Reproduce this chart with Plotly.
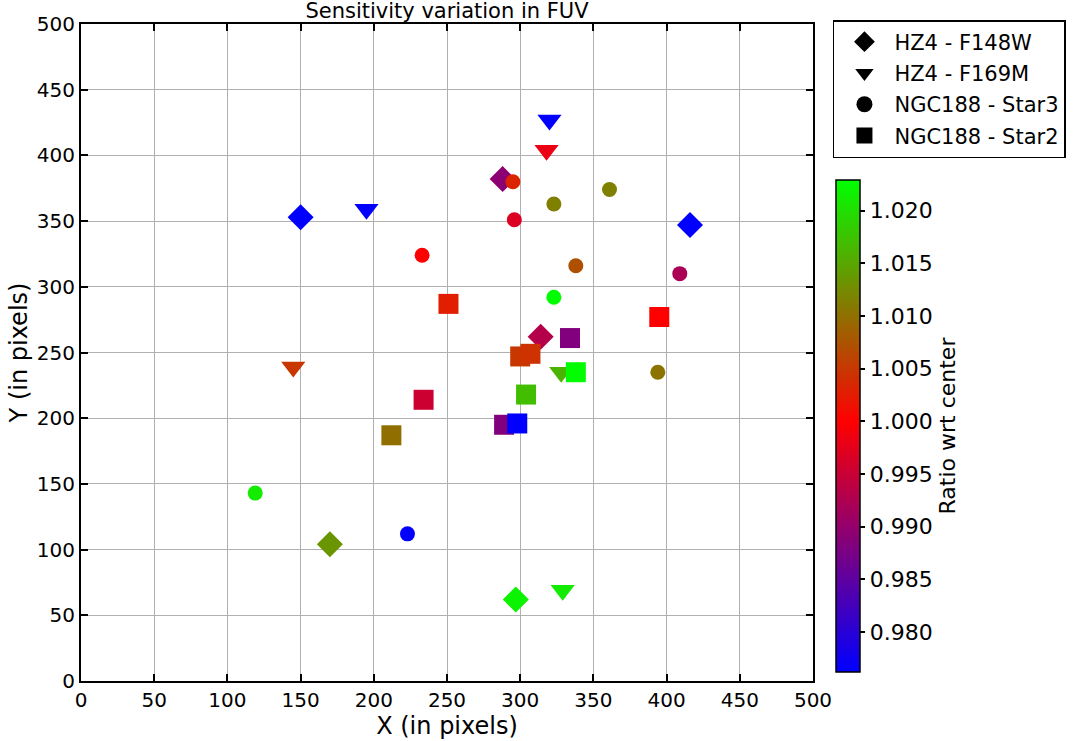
import plotly.graph_objects as go

# ---- data ----
hz4_f148w_x = [150, 416, 288, 314, 170, 297]
hz4_f148w_y = [353, 347, 382, 262, 104, 62]
hz4_f148w_r = [0.9763, 0.9763, 0.9893, 0.9930, 1.0135, 1.0218]

hz4_f169m_x = [320, 318, 195, 145, 328, 329]
hz4_f169m_y = [427, 404, 359, 239, 235, 69]
hz4_f169m_r = [0.9763, 0.9981, 0.9763, 1.0049, 1.0162, 1.0212]

star3_x = [295, 296, 233, 323, 361, 338, 409, 323, 394, 119, 223]
star3_y = [380, 351, 324, 363, 374, 316, 310, 292, 235, 143, 112]
star3_r = [1.0031, 0.9967, 1.0000, 1.0115, 1.0115, 1.0072, 0.9921, 1.0228, 1.0103, 1.0212, 0.9763]

star2_x = [251, 395, 334, 300, 307, 338, 304, 289, 298, 234, 212]
star2_y = [287, 277, 261, 247, 249, 235, 218, 195, 196, 214, 187]
star2_r = [1.0027, 1.0000, 0.9883, 1.0049, 1.0045, 1.0228, 1.0171, 0.9882, 0.9763, 0.9953, 1.0099]

series_names = ["HZ4 - F148W", "HZ4 - F169M", "NGC188 - Star3", "NGC188 - Star2"]
cbar_ticks = [0.980, 0.985, 0.990, 0.995, 1.000, 1.005, 1.010, 1.015, 1.020]
axis_ticks = list(range(0, 501, 50))

CMIN, CMAX = 0.9762, 1.0229
red_pos = (1.0 - CMIN) / (CMAX - CMIN)
cscale = [[0.0, "rgb(0,0,255)"], [red_pos, "rgb(255,0,0)"], [1.0, "rgb(0,255,0)"]]

FONT = "DejaVu Sans"

series = [
    (hz4_f148w_x, hz4_f148w_y, hz4_f148w_r, "diamond", 20),
    (hz4_f169m_x, hz4_f169m_y, hz4_f169m_r, "triangle-down", 21),
    (star3_x, star3_y, star3_r, "circle", 15),
    (star2_x, star2_y, star2_r, "square", 20),
]

fig = go.Figure()
for i, (xs, ys, rs, sym, sz) in enumerate(series):
    mk = dict(symbol=sym, size=sz, color=rs, colorscale=cscale, cmin=CMIN, cmax=CMAX,
              line=dict(width=0))
    if i == 0:
        mk.update(showscale=True, colorbar=dict(
            title=dict(text="Ratio wrt center", side="right", font=dict(size=22, family=FONT, color="black")),
            tickvals=cbar_ticks, tickformat=".3f", ticks="outside", ticklen=5, tickwidth=1.5,
            tickcolor="black", tickfont=dict(size=22, family=FONT, color="black"),
            outlinecolor="black", outlinewidth=1.5, thickness=24, thicknessmode="pixels",
            len=492 / 657, lenmode="fraction", x=(838 - 81) / 734, xanchor="left",
            y=(681 - 426) / 657, yanchor="middle", xpad=0, ypad=0))
    fig.add_trace(go.Scatter(x=xs, y=ys, mode="markers", marker=mk, showlegend=False,
                             name=series_names[i]))

# legend entries with black symbols
for i, (xs, ys, rs, sym, sz) in enumerate(series):
    fig.add_trace(go.Scatter(x=[None], y=[None], mode="markers", name=series_names[i],
                             legendgroup="g%d" % i,
                             marker=dict(symbol=sym, size=16, color="black")))

axis_common = dict(range=[0, 500], tickvals=axis_ticks, showgrid=True, gridcolor="#b0b0b0",
                   gridwidth=1, showline=True, linecolor="black", linewidth=2, mirror="ticks",
                   ticks="inside", ticklen=7, tickwidth=1.5, tickcolor="black", zeroline=False)

fig.update_layout(
    width=1078, height=741,
    margin=dict(l=81, r=263, t=24, b=60),
    paper_bgcolor="white", plot_bgcolor="white",
    font=dict(family=FONT, size=20, color="black"),
    title=dict(text="Sensitivity variation in FUV", x=0.5, xref="paper", xanchor="center",
               y=1 - 11 / 741, yanchor="middle", font=dict(size=21, family=FONT, color="black")),
    xaxis=dict(axis_common, title=dict(text="X (in pixels)", font=dict(size=24), standoff=0),
               tickfont=dict(size=20)),
    yaxis=dict(axis_common, title=dict(text="Y (in pixels)", font=dict(size=24), standoff=2),
               tickfont=dict(size=20)),
    legend=dict(x=(835 - 81) / 734, y=(681 - 20) / 657, xanchor="left", yanchor="top",
                bordercolor="black", borderwidth=1.5, font=dict(size=21, family=FONT, color="black"),
                bgcolor="white", tracegroupgap=1, itemwidth=50, traceorder="grouped"),
)

fig.write_html("out.html")
